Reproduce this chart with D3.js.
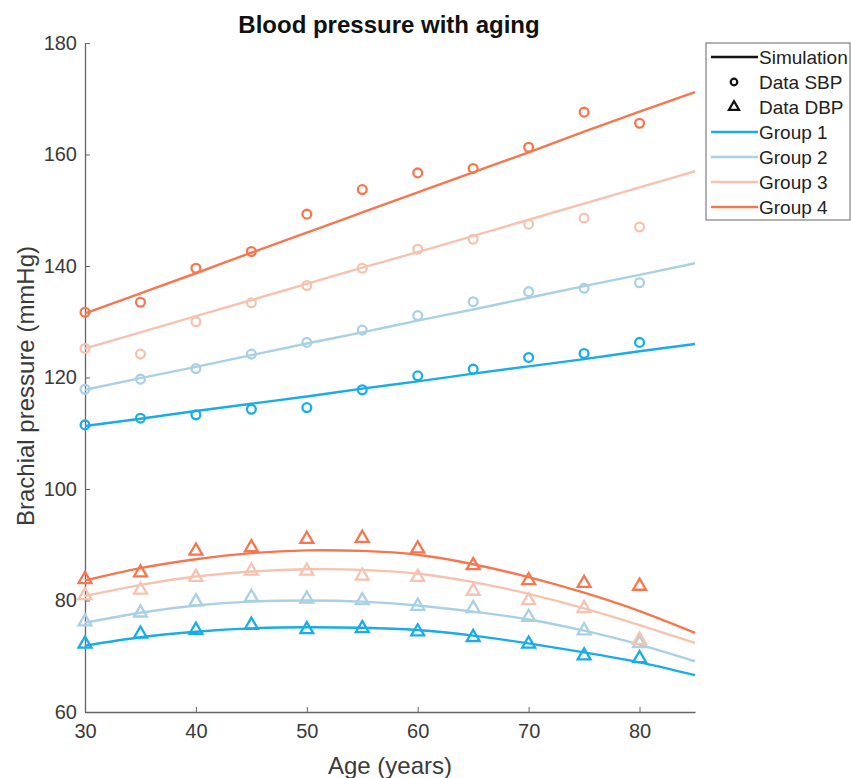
<!DOCTYPE html>
<html>
  <head>
    <script src="https://cdn.jsdelivr.net/npm/d3@7"></script>
    <style>
      body { margin: 0; background: #fff; }
      text { font-family: "Liberation Sans", Arial, sans-serif; }
    </style>
  </head>
  <body>
  <script>
  var width = 851, height = 778;
  var margin = {left: 85, right: 156, top: 43, bottom: 66};

  var groups = ['Group 1', 'Group 2', 'Group 3', 'Group 4'];
  var colors = ['#19ace8', '#a9d0e4', '#f5c3b0', '#f6774f'];

  var dataAges = [30, 35, 40, 45, 50, 55, 60, 65, 70, 75, 80];
  var simAges = [30, 35, 40, 45, 50, 55, 60, 65, 70, 75, 80, 85];

  // measured SBP (circles)
  var sbpData = [
    [111.5, 112.7, 113.3, 114.3, 114.6, 117.8, 120.3, 121.5, 123.6, 124.3, 126.3],
    [117.9, 119.7, 121.6, 124.2, 126.3, 128.5, 131.1, 133.6, 135.4, 136.0, 137.0],
    [125.2, 124.2, 130.0, 133.4, 136.5, 139.6, 143.0, 144.8, 147.5, 148.6, 147.0],
    [131.7, 133.5, 139.6, 142.6, 149.3, 153.7, 156.7, 157.5, 161.3, 167.6, 165.6]
  ];
  // measured DBP (triangles)
  var dbpData = [
    [72.2, 74.0, 74.7, 75.6, 74.8, 75.0, 74.4, 73.4, 72.2, 70.1, 69.6],
    [76.2, 77.8, 79.8, 80.6, 80.3, 80.0, 79.0, 78.6, 77.0, 74.6, 72.3],
    [80.9, 81.9, 84.2, 85.3, 85.3, 84.4, 84.2, 81.7, 80.0, 78.6, 72.9],
    [83.8, 85.0, 88.9, 89.5, 91.0, 91.2, 89.3, 86.3, 83.6, 83.1, 82.6]
  ];
  // simulated SBP / DBP (lines)
  var sbpSim = [
    [111.3, 112.6, 114.0, 115.3, 116.6, 118.0, 119.3, 120.7, 122.0, 123.3, 124.7, 126.0],
    [117.8, 119.9, 121.9, 124.0, 126.1, 128.1, 130.2, 132.2, 134.3, 136.4, 138.4, 140.5],
    [125.2, 128.1, 131.0, 133.9, 136.8, 139.7, 142.5, 145.4, 148.3, 151.2, 154.1, 157.0],
    [131.5, 135.1, 138.7, 142.4, 146.0, 149.6, 153.2, 156.8, 160.4, 164.1, 167.7, 171.2]
  ];
  var dbpSim = [
    [71.9, 73.4, 74.4, 75.0, 75.2, 75.1, 74.7, 73.7, 72.3, 70.7, 68.9, 66.6],
    [76.0, 77.8, 79.1, 79.8, 80.0, 79.8, 79.1, 78.0, 76.6, 74.6, 72.1, 69.1],
    [80.8, 82.8, 84.3, 85.2, 85.6, 85.5, 84.8, 83.3, 81.2, 78.6, 75.6, 72.4],
    [83.6, 85.8, 87.4, 88.5, 89.0, 88.9, 88.2, 86.5, 84.2, 81.4, 78.1, 74.2]
  ];

  var xTicks = [30, 40, 50, 60, 70, 80];
  var yTicks = [60, 80, 100, 120, 140, 160, 180];

  var svg = d3.select('body').append('svg')
      .attr('width', width)
      .attr('height', height);

  var x = d3.scaleLinear().domain([30, 85]).range([margin.left, width - margin.right]);
  var y = d3.scaleLinear().domain([60, 180]).range([height - margin.bottom, margin.top]);

  var axisColor = '#666';

  // axes (MATLAB style: ticks inside, box off)
  var gx = svg.append('g')
      .attr('transform', 'translate(0,' + y(60) + ')')
      .call(d3.axisBottom(x).tickValues(xTicks).tickSizeInner(-5).tickSizeOuter(0).tickPadding(12));
  var gy = svg.append('g')
      .attr('transform', 'translate(' + x(30) + ',0)')
      .call(d3.axisLeft(y).tickValues(yTicks).tickSizeInner(-5).tickSizeOuter(0).tickPadding(8));
  [gx, gy].forEach(function(g) {
    g.select('.domain').attr('stroke', axisColor).attr('stroke-width', 1.3);
    g.selectAll('.tick line').attr('stroke', axisColor);
    g.selectAll('.tick text').attr('fill', '#3a3a3a').style('font-size', '20px')
      .style('font-family', '"Liberation Sans", Arial, sans-serif');
  });

  // titles
  svg.append('text')
      .attr('x', 389).attr('y', 33)
      .attr('text-anchor', 'middle')
      .style('font-size', '24px').style('font-weight', 'bold')
      .attr('fill', '#111')
      .text('Blood pressure with aging');
  svg.append('text')
      .attr('x', 390).attr('y', 774)
      .attr('text-anchor', 'middle')
      .style('font-size', '24px').attr('fill', '#3a3a3a')
      .text('Age (years)');
  svg.append('text')
      .attr('transform', 'translate(34,386) rotate(-90)')
      .attr('text-anchor', 'middle')
      .style('font-size', '24px').attr('fill', '#3a3a3a')
      .text('Brachial pressure (mmHg)');

  var line = d3.line()
      .x(function(d) { return x(d[0]); })
      .y(function(d) { return y(d[1]); })
      .curve(d3.curveNatural);

  var tri = d3.symbol().type(d3.symbolTriangle).size(72);

  groups.forEach(function(g, i) {
    var c = colors[i];
    [sbpSim[i], dbpSim[i]].forEach(function(vals) {
      svg.append('path')
          .datum(simAges.map(function(a, k) { return [a, vals[k]]; }))
          .attr('fill', 'none')
          .attr('stroke', c)
          .attr('stroke-width', 2.4)
          .attr('d', line);
    });
    svg.selectAll('.sbp' + i)
        .data(dataAges.map(function(a, k) { return [a, sbpData[i][k]]; }))
      .enter().append('circle')
        .attr('class', 'sbp' + i)
        .attr('cx', function(d) { return x(d[0]); })
        .attr('cy', function(d) { return y(d[1]); })
        .attr('r', 4.4)
        .attr('fill', 'none')
        .attr('stroke', c)
        .attr('stroke-width', 2.3);
    svg.selectAll('.dbp' + i)
        .data(dataAges.map(function(a, k) { return [a, dbpData[i][k]]; }))
      .enter().append('path')
        .attr('class', 'dbp' + i)
        .attr('d', tri)
        .attr('transform', function(d) { return 'translate(' + x(d[0]) + ',' + y(d[1]) + ')'; })
        .attr('fill', 'none')
        .attr('stroke', c)
        .attr('stroke-width', 2.3);
  });

  // legend
  var lg = svg.append('g').attr('transform', 'translate(706,43)');
  lg.append('rect')
      .attr('width', 144).attr('height', 177)
      .attr('fill', '#fff').attr('stroke', '#666').attr('stroke-width', 1);
  var entries = [
    {label: 'Simulation', kind: 'line', color: '#111'},
    {label: 'Data SBP', kind: 'circle', color: '#111'},
    {label: 'Data DBP', kind: 'tri', color: '#111'}
  ].concat(groups.map(function(g, i) { return {label: g, kind: 'line', color: colors[i]}; }));
  entries.forEach(function(e, i) {
    var yy = 14 + i * 25;
    if (e.kind === 'line') {
      lg.append('line').attr('x1', 5).attr('x2', 52).attr('y1', yy).attr('y2', yy)
        .attr('stroke', e.color).attr('stroke-width', 2.4);
    } else if (e.kind === 'circle') {
      lg.append('circle').attr('cx', 28).attr('cy', yy).attr('r', 3.3)
        .attr('fill', 'none').attr('stroke', e.color).attr('stroke-width', 2.2);
    } else {
      lg.append('path').attr('d', d3.symbol().type(d3.symbolTriangle).size(45))
        .attr('transform', 'translate(28,' + yy + ')')
        .attr('fill', 'none').attr('stroke', e.color).attr('stroke-width', 2.2);
    }
    lg.append('text').attr('x', 53).attr('y', yy).attr('dy', '0.35em')
      .style('font-size', '19px').attr('fill', '#222')
      .text(e.label);
  });
  </script>
  </body>
</html>
